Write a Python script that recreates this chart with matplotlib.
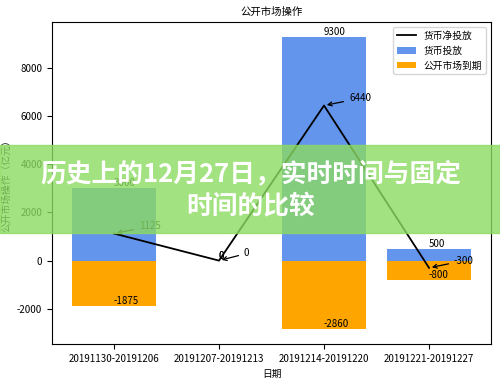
import matplotlib
matplotlib.use("Agg")
import matplotlib.pyplot as plt
from matplotlib.patches import Rectangle
import numpy as np

plt.rcParams['font.family'] = ['Noto Sans CJK SC', 'DejaVu Sans']
plt.rcParams['axes.unicode_minus'] = False

# data
dates = ["20191130-20191206", "20191207-20191213", "20191214-20191220", "20191221-20191227"]
injection = [3000, 0, 9300, 500]        # 货币投放
maturity = [-1875, 0, -2860, -800]      # 公开市场到期
net = [1125, 0, 6440, -300]             # 货币净投放

fig = plt.figure(figsize=(5.0, 3.79), dpi=100)
ax = fig.add_axes([0.104, 0.092, 0.878, 0.85])

x = np.arange(len(dates))
ax.plot(x, net, color='black', lw=1.3, label='货币净投放')
ax.bar(x, injection, width=0.8, color='cornflowerblue', label='货币投放')
ax.bar(x, maturity, width=0.8, color='orange', label='公开市场到期')

fs = 7
for i in range(len(x)):
    ax.text(x[i], injection[i], str(injection[i]), fontsize=fs, va='bottom')
    ax.text(x[i], maturity[i], str(maturity[i]), fontsize=fs, va='bottom')
    ax.annotate(str(net[i]), xy=(x[i], net[i]), xytext=(18, 3), textcoords='offset points',
                fontsize=fs, arrowprops=dict(arrowstyle='->', color='black', lw=0.9))

ax.set_xticks(x)
ax.set_xticklabels(dates, fontsize=fs)
ax.tick_params(axis='y', labelsize=fs)
ax.set_title('公开市场操作', fontsize=fs + 0.5, pad=5)
ax.set_xlabel('日期', fontsize=fs)
ax.set_ylabel('公开市场操作（亿元）', fontsize=fs)
ax.legend(loc='upper right', fontsize=fs)

# overlay banner
fig.patches.append(Rectangle((0, 1 - 233 / 379), 1, 88 / 379, transform=fig.transFigure,
                             color=(0.55, 0.86, 0.38), alpha=0.8, zorder=5))
fig.text(0.502, 1 - 175 / 379, '历史上的12月27日，实时时间与固定', color='white', fontsize=18.5,
         fontweight='bold', ha='center', va='center', zorder=6)
fig.text(0.502, 1 - 207 / 379, '时间的比较', color='white', fontsize=18.5,
         fontweight='bold', ha='center', va='center', zorder=6)

fig.savefig('out.png', dpi=100)
